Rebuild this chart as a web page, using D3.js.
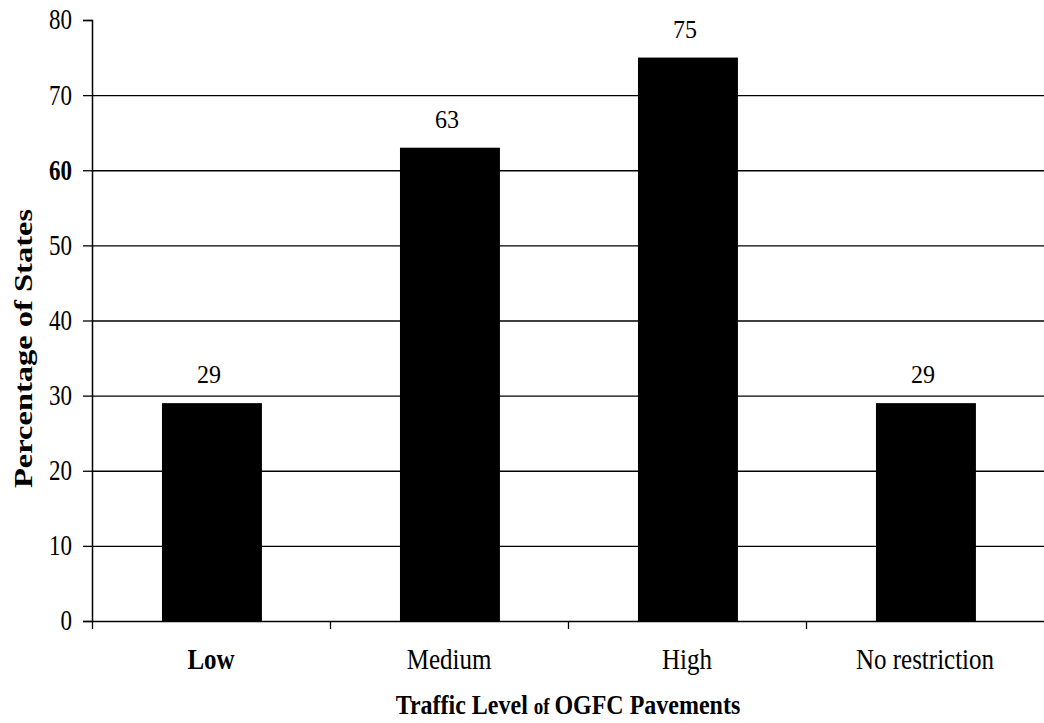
<!DOCTYPE html>
<html>
<head>
<meta charset="utf-8">
<script src="https://cdn.jsdelivr.net/npm/d3@7"></script>
<style>
  html, body { margin: 0; padding: 0; background: #fff; }
  svg text { font-family: "Liberation Serif", "Times New Roman", serif; fill: #000; }
</style>
</head>
<body>
<svg id="chart" width="1044" height="723"></svg>
<script>
const categories = ["Low", "Medium", "High", "No restriction"];
const values = [29, 63, 75, 29];
const yTicks = [0, 10, 20, 30, 40, 50, 60, 70, 80];
const yTitle = "Percentage of States";
const xTitleParts = ["Traffic Level ", "of ", "OGFC Pavements"];

const svg = d3.select("#chart");
const mLeft = 92, mRight = 1044, mTop = 20, mBottom = 621;

const x = d3.scaleBand().domain(categories).range([mLeft, mRight]).padding(0);
const y = d3.scaleLinear().domain([0, 80]).range([mBottom, mTop]);

// gridlines (10..70)
svg.append("g").selectAll("line")
  .data(yTicks.filter(t => t > 0 && t < 80))
  .join("line")
  .attr("x1", mLeft).attr("x2", mRight)
  .attr("y1", d => y(d) + 0.5).attr("y2", d => y(d) + 0.5)
  .attr("stroke", "#000").attr("stroke-width", 1.3);

// bars
const barOff = 0.294, barW = 0.42;
const barCenter = (i) => x(categories[i]) + x.bandwidth() * (barOff + barW / 2);
svg.append("g").selectAll("rect")
  .data(values)
  .join("rect")
  .attr("x", (d, i) => x(categories[i]) + x.bandwidth() * barOff)
  .attr("width", x.bandwidth() * barW)
  .attr("y", d => y(d))
  .attr("height", d => mBottom - y(d))
  .attr("fill", "#000");

// bar value labels (slightly tall type, as in the scanned original)
svg.append("g").selectAll("text")
  .data(values)
  .join("text")
  .attr("transform", (d, i) => `translate(${barCenter(i) - 3},${y(d) - 20}) scale(1,1.08)`)
  .attr("text-anchor", "middle")
  .attr("font-size", 24)
  .text(d => d);

// y axis
const yAxis = d3.axisLeft(y).tickValues(yTicks).tickSize(9).tickPadding(11).tickFormat(d3.format("d"));
const gy = svg.append("g").attr("transform", `translate(${mLeft},0)`).call(yAxis);
gy.select(".domain").attr("stroke", "#000").attr("stroke-width", 1.5);
gy.selectAll(".tick line").attr("stroke", "#000").attr("stroke-width", 1.3);
gy.selectAll(".tick text")
  .attr("font-size", 23).attr("fill", "#000")
  .attr("transform", "scale(1,1.3)")
  .attr("dy", "0.3em")
  .attr("font-weight", d => d === 60 ? "bold" : "normal");

// x axis
const xAxis = d3.axisBottom(x).tickSize(0).tickPadding(0);
const gx = svg.append("g").attr("transform", `translate(0,${mBottom})`).call(xAxis);
gx.select(".domain").attr("stroke", "#000").attr("stroke-width", 1.5);
gx.selectAll(".tick text")
  .attr("font-size", 25).attr("fill", "#000")
  .attr("transform", "scale(1,1.14)")
  .attr("y", 48 / 1.14).attr("dy", 0)
  .attr("font-weight", d => d === "Low" ? "bold" : "normal");
// category boundary ticks
gx.append("g").selectAll("line")
  .data(categories)
  .join("line")
  .attr("x1", d => x(d) + 0.5).attr("x2", d => x(d) + 0.5)
  .attr("y1", 0).attr("y2", 8)
  .attr("stroke", "#000").attr("stroke-width", 1.3);

// y title (stretched along its length, as in the original)
svg.append("text")
  .attr("transform", `translate(32,${(mTop + mBottom) / 2 + 28}) rotate(-90) scale(1.3,1)`)
  .attr("text-anchor", "middle")
  .attr("font-size", 25).attr("font-weight", "bold")
  .text(yTitle);

// x title
const xt = svg.append("text")
  .attr("transform", `translate(${(mLeft + mRight) / 2},714) scale(1,1.17)`)
  .attr("text-anchor", "middle").attr("font-weight", "bold");
xt.selectAll("tspan").data(xTitleParts).join("tspan")
  .attr("font-size", (d, i) => i === 1 ? 19 : 24).text(d => d);
</script>
</body>
</html>
